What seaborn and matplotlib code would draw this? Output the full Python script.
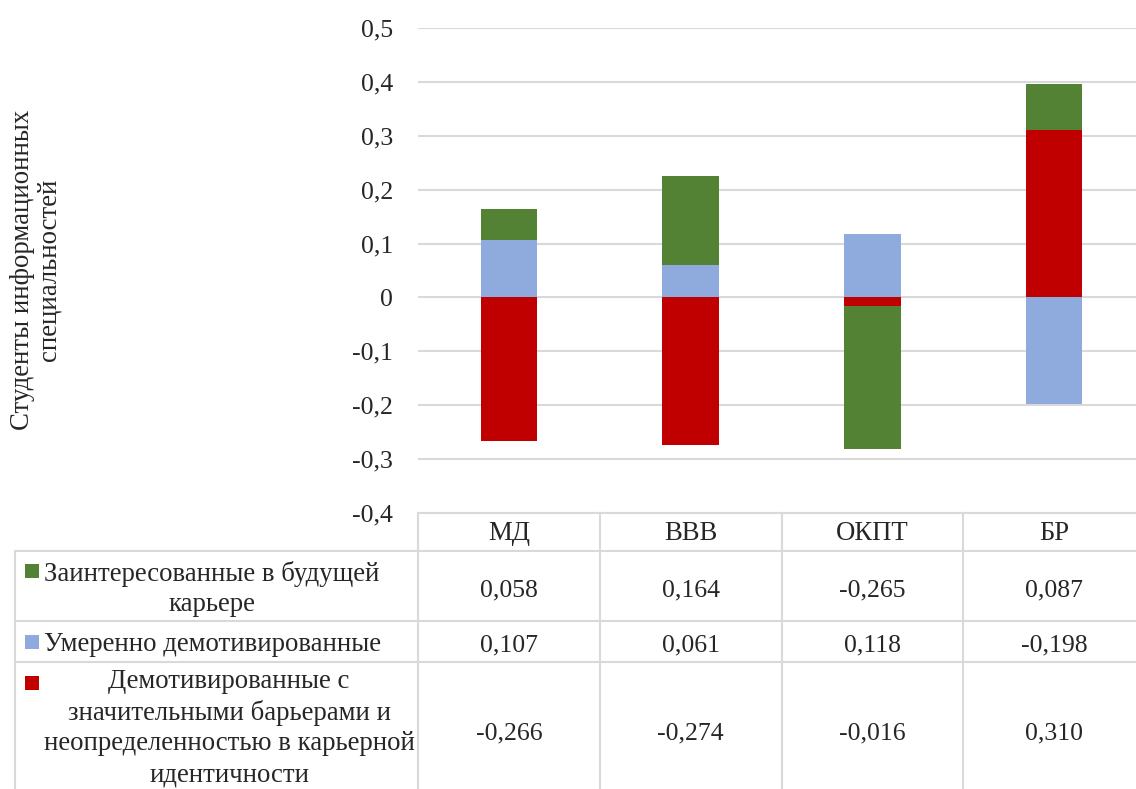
import matplotlib
matplotlib.use("Agg")
import matplotlib.pyplot as plt
import numpy as np
import seaborn as sns

categories = ["МД", "ВВВ", "ОКПТ", "БР"]
series_names = [
    "Заинтересованные в будущей\nкарьере",
    "Умеренно демотивированные",
    "Демотивированные с\nзначительными барьерами и\nнеопределенностью в карьерной\nидентичности",
]
interested = [0.058, 0.164, -0.265, 0.087]
moderate = [0.107, 0.061, 0.118, -0.198]
demotivated = [-0.266, -0.274, -0.016, 0.310]
colors = ["#548235", "#8FAADC", "#C00000"]
y_ticks = [-0.4, -0.3, -0.2, -0.1, 0, 0.1, 0.2, 0.3, 0.4, 0.5]
y_label = "Студенты информационных\nспециальностей"

sns.set_theme(style="white")
plt.rcParams["font.family"] = ["Liberation Serif", "DejaVu Serif"]
FS_TICK = 18.5
FS_TEXT = 19.3
FS_VAL = 18.5

W, H = 1136, 789
fig = plt.figure(figsize=(W / 100, H / 100), dpi=100)

# chart area in pixels: x 418..1145, y 28..513
ax = fig.add_axes([418 / W, 1 - 513 / H, (1145 - 418) / W, (513 - 28) / H])

# stacked bars, positive and negative parts stacked separately
series = [interested, moderate, demotivated]
pos = np.zeros(len(categories))
neg = np.zeros(len(categories))
for vals, color in [(demotivated, colors[2]), (moderate, colors[1]), (interested, colors[0])]:
    v = np.array(vals)
    bottom = np.where(v >= 0, pos, neg)
    sns.barplot(x=categories, y=v, order=categories, bottom=bottom, color=color,
                saturation=1, width=0.31, errorbar=None, linewidth=0, ax=ax, zorder=3)
    pos += np.where(v >= 0, v, 0)
    neg += np.where(v < 0, v, 0)

ax.set_ylim(-0.4, 0.5)
ax.set_xlim(-0.5, len(categories) - 0.5)
ax.set_yticks(y_ticks)
ax.set_yticklabels([("%g" % t).replace(".", ",") for t in y_ticks], fontsize=FS_TICK)
ax.tick_params(axis="y", length=0, pad=18)
ax.set_xticks([])
ax.set_xlabel("")
ax.set_ylabel("")
ax.yaxis.grid(True, color="#d9d9d9", lw=1.5, zorder=0)
ax.set_axisbelow(True)
sns.despine(ax=ax, left=True, bottom=True)

fig.text(36 / W, 1 - 270 / H, y_label, rotation=90, ha="center", va="center",
         multialignment="center", fontsize=FS_TEXT, linespacing=1.1)

# data table drawn in pixel coordinates
tab = fig.add_axes([0, 0, 1, 1])
tab.set_xlim(0, W)
tab.set_ylim(H, 0)
tab.axis("off")
grid_c = "#d9d9d9"
col_w = (1145 - 418) / len(categories)
col_x = [418 + i * col_w for i in range(len(categories) + 1)]
rows_y = [513, 551, 621, 662, 796]
dy = 4  # text baseline nudge

tab.plot([418, W], [513, 513], color=grid_c, lw=1.5)
for y in rows_y[1:4]:
    tab.plot([15, W], [y, y], color=grid_c, lw=1.5)
tab.plot([15, 15], [551, H], color=grid_c, lw=1.5)
for x in col_x:
    tab.plot([x, x], [513, H], color=grid_c, lw=1.5)

for i, c in enumerate(categories):
    tab.text(col_x[i] + col_w / 2, 530 + dy, c, ha="center", va="center", fontsize=FS_TEXT)

label_x = [212, 212, 229]
label_dy = [3, 3, -1]
for r, (name, vals, color) in enumerate(zip(series_names, series, colors)):
    yc = (rows_y[r + 1] + rows_y[r + 2]) / 2
    n_lines = name.count("\n") + 1
    key_y = yc - (n_lines - 1) * 15.5
    tab.add_patch(plt.Rectangle((25, key_y - 7), 14, 14, color=color, lw=0))
    tab.text(label_x[r], yc + label_dy[r], name, ha="center", va="center",
             multialignment="center", fontsize=FS_TEXT, linespacing=1.3)
    for i, v in enumerate(vals):
        tab.text(col_x[i] + col_w / 2, yc + dy, ("%.3f" % v).replace(".", ","),
                 ha="center", va="center", fontsize=FS_VAL)

fig.savefig("out.png", dpi=100)
